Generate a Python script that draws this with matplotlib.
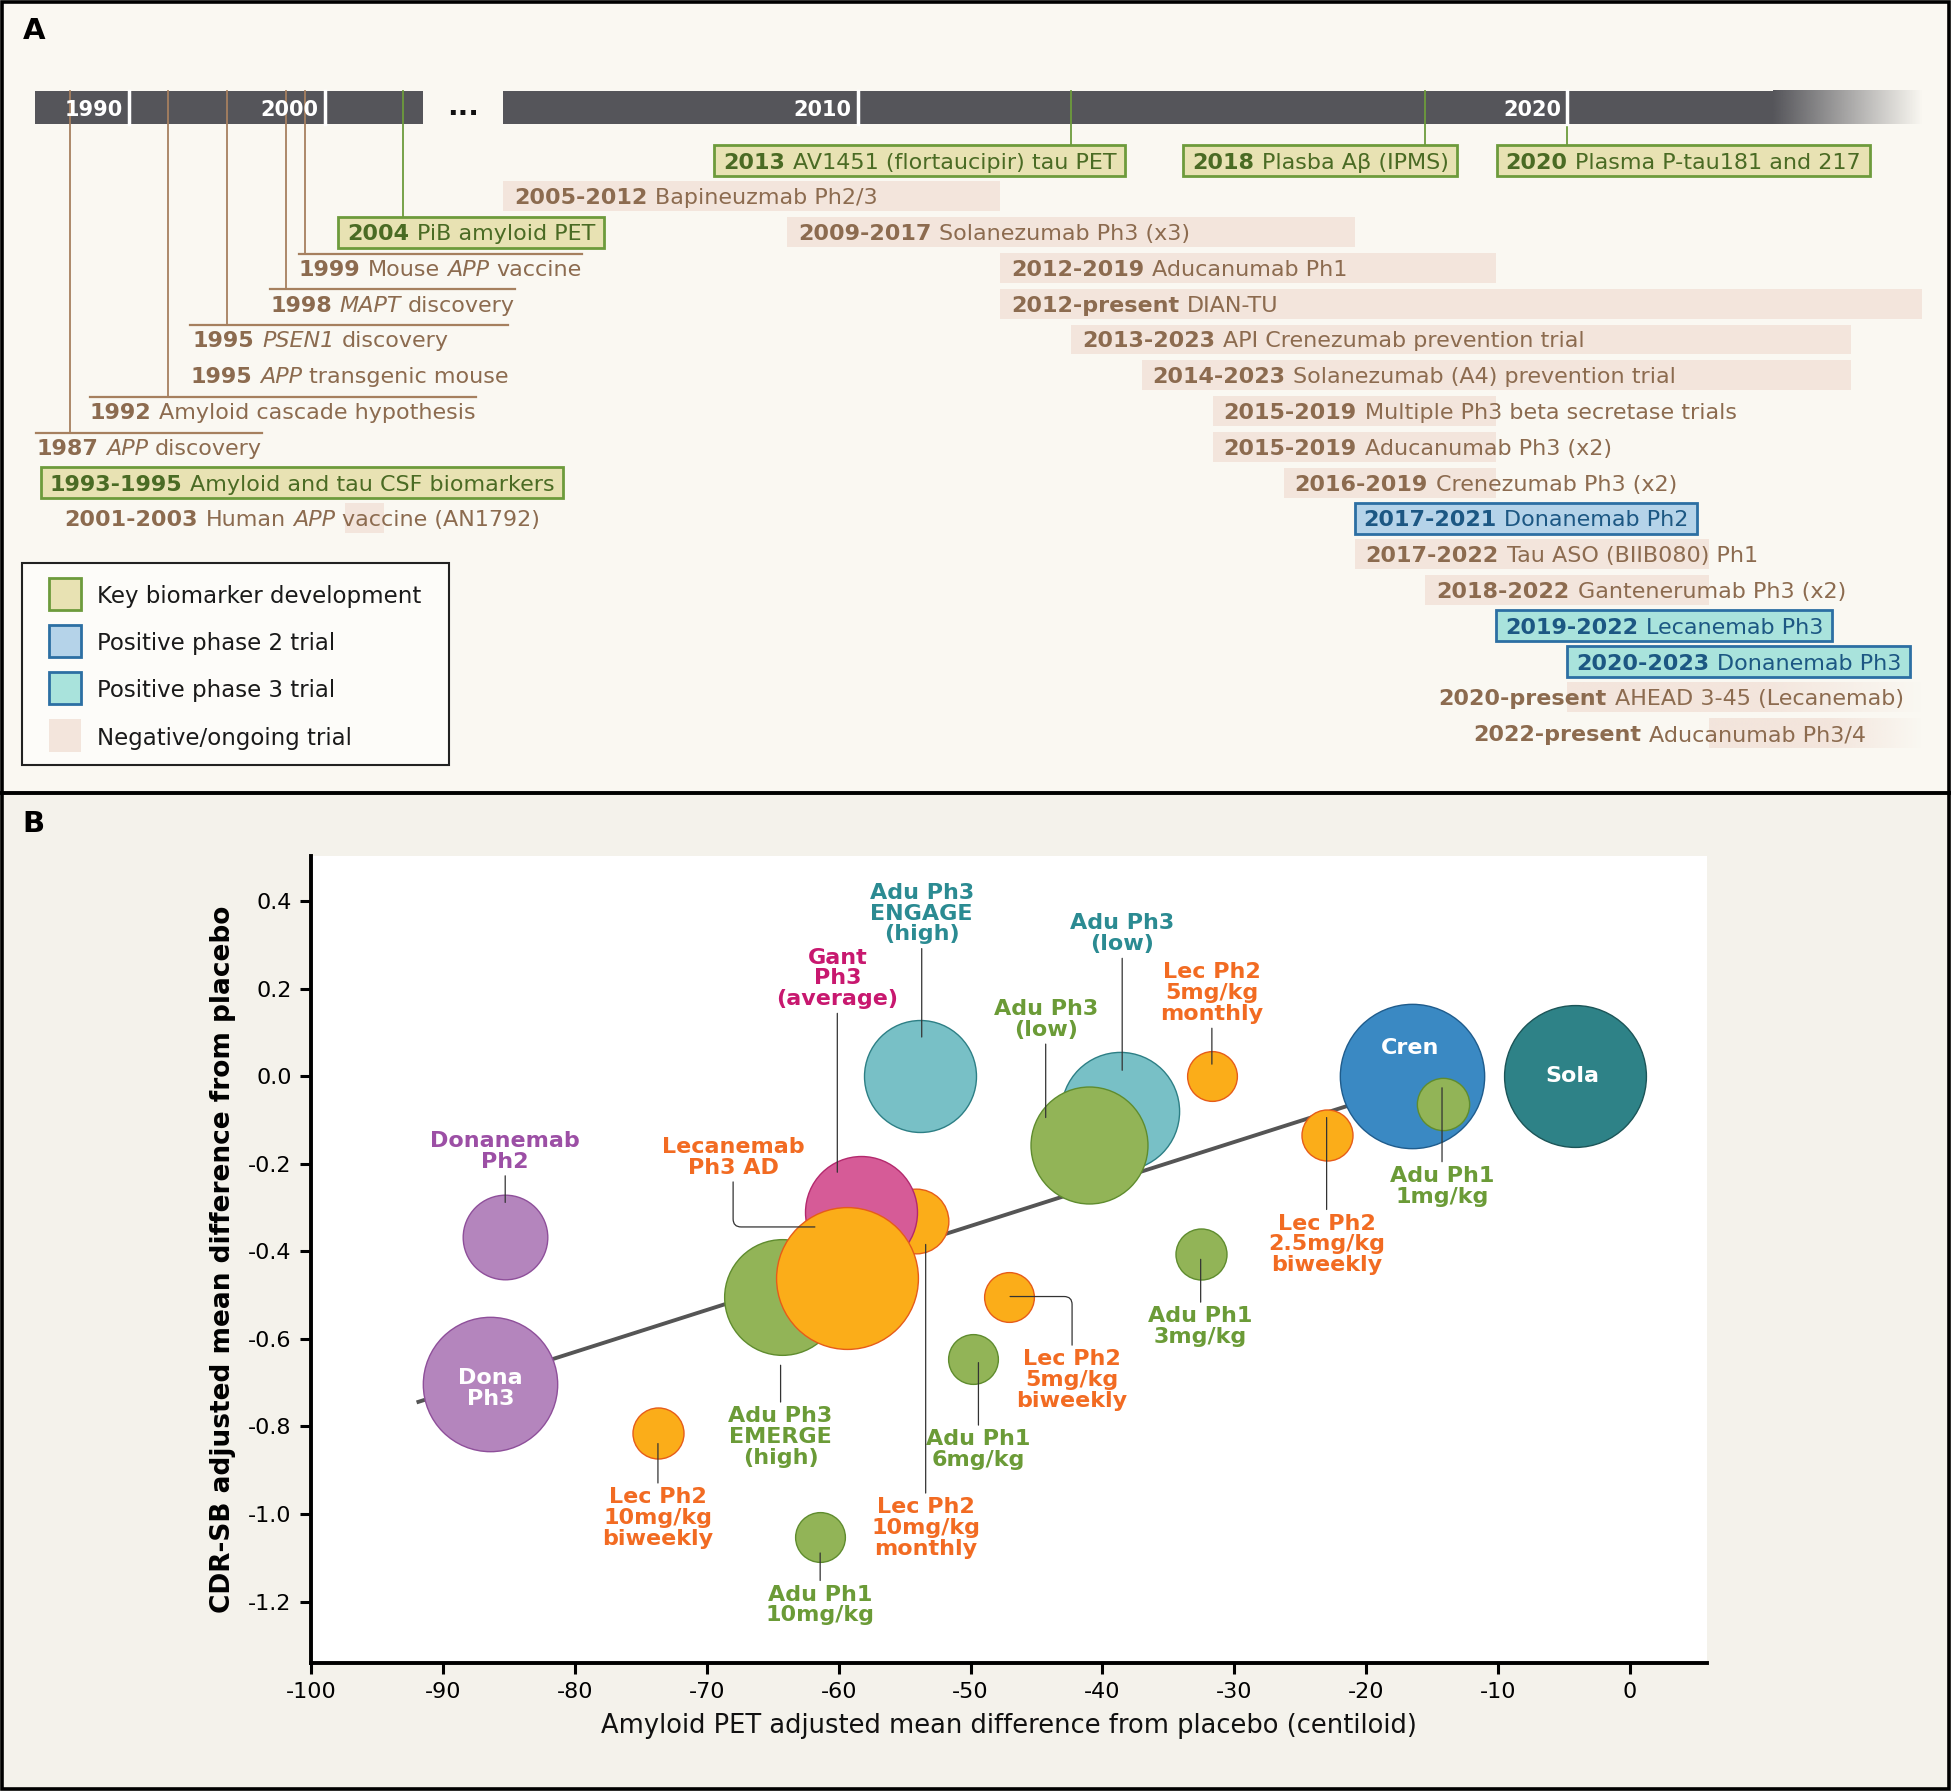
import numpy as np
import matplotlib
matplotlib.use("Agg")
import matplotlib.pyplot as plt
from matplotlib.patches import Rectangle
from matplotlib.colors import to_rgb
from matplotlib.font_manager import FontProperties

plt.rcParams["font.family"] = ["DejaVu Sans"]
plt.rcParams["axes.unicode_minus"] = False

# ---------------- panel A data : timeline ----------------
tick_years = [1990, 2000, 2010, 2020]
timeline_start = 1985.2
break_year = 2005          # timeline is broken ("...") here
timeline_end = 2025

# early discoveries (text with a leader to the timeline)
ev_year = [1987, 1992, 1995, 1995, 1998, 1999]
ev_text = ["1987 *APP* discovery", "1992 Amyloid cascade hypothesis",
           "1995 *PSEN1* discovery", "1995 *APP* transgenic mouse",
           "1998 *MAPT* discovery", "1999 Mouse *APP* vaccine"]
ev_row = [9, 8, 6, 7, 5, 4]

# key biomarker developments
bm_year = [1993, 2004, 2013, 2018, 2020]
bm_text = ["1993-1995 Amyloid and tau CSF biomarkers", "2004 PiB amyloid PET",
           "2013 AV1451 (flortaucipir) tau PET", "2018 Plasba A\u03b2 (IPMS)",
           "2020 Plasma P-tau181 and 217"]
bm_row = [10, 3, 1, 1, 1]
bm_linked = [False, True, True, True, True]

# trials (None = present); bar ends as drawn in the figure
tr_start = [2001, 2005, 2009, 2012, 2012, 2013, 2014, 2015, 2015, 2016,
            2017, 2017, 2018, 2019, 2020, 2020, 2022]
tr_end = [2003, 2012, 2017, 2019, None, 2024, 2024, 2019, 2019, 2019,
          2021, 2022, 2022, 2022, 2023, None, None]
tr_text = ["2001-2003 Human *APP* vaccine (AN1792)",
           "2005-2012 Bapineuzmab Ph2/3",
           "2009-2017 Solanezumab Ph3 (x3)",
           "2012-2019 Aducanumab Ph1",
           "2012-present DIAN-TU",
           "2013-2023 API Crenezumab prevention trial",
           "2014-2023 Solanezumab (A4) prevention trial",
           "2015-2019 Multiple Ph3 beta secretase trials",
           "2015-2019 Aducanumab Ph3 (x2)",
           "2016-2019 Crenezumab Ph3 (x2)",
           "2017-2021 Donanemab Ph2",
           "2017-2022 Tau ASO (BIIB080) Ph1",
           "2018-2022 Gantenerumab Ph3 (x2)",
           "2019-2022 Lecanemab Ph3",
           "2020-2023 Donanemab Ph3",
           "2020-present AHEAD 3-45 (Lecanemab)",
           "2022-present Aducanumab Ph3/4"]
tr_kind = ["neg"] * 10 + ["ph2", "neg", "neg", "ph3", "ph3", "neg", "neg"]
tr_row = [11, 2, 3, 4, 5, 6, 7, 8, 9, 10, 11, 12, 13, 14, 15, 16, 17]

legend_labels = ["Key biomarker development", "Positive phase 2 trial",
                 "Positive phase 3 trial", "Negative/ongoing trial"]
legend_kinds = ["bm", "ph2", "ph3", "neg"]

# ---------------- panel B data : bubbles ----------------
bub_x = [-85.3, -86.4, -73.7, -64.3, -54.1, -58.3, -59.4, -53.8, -61.4, -49.8,
         -47.1, -38.7, -41.0, -31.7, -32.5, -23.0, -16.5, -14.2, -4.2]
bub_y = [-0.367, -0.702, -0.816, -0.503, -0.33, -0.31, -0.46, 0.0, -1.052, -0.645,
         -0.503, -0.08, -0.157, 0.0, -0.405, -0.134, 0.0, -0.063, 0.0]
bub_d = [68, 108, 41, 93, 52, 90, 114, 90, 40, 40,
         40, 95, 94, 40, 41, 41, 116, 42, 114]
bub_group = ["dona", "dona", "lec", "adu", "lec", "gant", "lec", "adu3t", "adu", "adu",
             "lec", "adu3t", "adu", "lec", "adu", "lec", "cren", "adu", "sola"]

fit_x = [-92, -17]
fit_y = [-0.745, -0.025]

lab_text = ["Donanemab\nPh2", "Lecanemab\nPh3 AD", "Gant\nPh3\n(average)",
            "Adu Ph3\nENGAGE\n(high)", "Adu Ph3\n(low)", "Adu Ph3\n(low)",
            "Lec Ph2\n5mg/kg\nmonthly", "Adu Ph1\n1mg/kg", "Lec Ph2\n2.5mg/kg\nbiweekly",
            "Adu Ph1\n3mg/kg", "Lec Ph2\n5mg/kg\nbiweekly", "Adu Ph1\n6mg/kg",
            "Lec Ph2\n10mg/kg\nmonthly", "Adu Ph3\nEMERGE\n(high)",
            "Lec Ph2\n10mg/kg\nbiweekly", "Adu Ph1\n10mg/kg"]
lab_group = ["dona", "lec", "gant", "adu3t", "adu3t", "adu", "lec", "adu", "lec",
             "adu", "lec", "adu", "lec", "adu", "lec", "adu"]

inner_text = ["Dona\nPh3", "Cren", "Sola"]

# ---------------- layout ----------------
W, H = 1568, 1439
SX = 1951 / W
A_BOTTOM = 637
ROW_Y0, ROW_DY = 129, 28.75
BAR_TOP, BAR_BOT = 73, 100
EARLY_PX = (28, 340)
LATE_PX = (404, 1545)
FS = 16
PAD = 7
ev_text_x = [29, 72, 155, 153, 217, 240]
bm_box_x = [33, 272, 574, 951, 1203]
tr_text_x = {0: 52}
tr_text_right = {15: 1530, 16: 1500}
tr_fade = {15, 16}

lab_xy = [(-85.28, -0.171), (-68.0, -0.185), (-60.1, 0.224), (-53.7, 0.372),
          (-38.5, 0.326), (-44.3, 0.130), (-31.7, 0.190), (-14.25, -0.251),
          (-23.0, -0.384), (-32.55, -0.572), (-42.3, -0.694), (-49.4, -0.853),
          (-53.4, -1.032), (-64.4, -0.824), (-73.7, -1.009), (-61.4, -1.208)]
lab_tip = [(-85.28, -0.288), (-61.8, -0.344), (-60.1, -0.219), (-53.7, 0.090),
           (-38.5, 0.014), (-44.3, -0.094), (-31.7, 0.028), (-14.25, -0.026),
           (-23.0, -0.094), (-32.55, -0.418), (-47.0, -0.503), (-49.4, -0.654),
           (-53.4, -0.384), (-64.4, -0.660), (-73.7, -0.839), (-61.4, -1.089)]
lab_elbow = {1, 10}
inner_xy = [(-86.4, -0.714), (-16.7, 0.065), (-4.4, 0.0)]

BAR_C = "#55555a"
BROWN = "#8c6b4f"
LINE_BROWN = "#a6805f"
GREEN_TXT = "#4a6b24"
BLUE_TXT = "#1c5783"
kind_face = {"bm": "#e8e2b3", "ph2": "#b5d3e9", "ph3": "#a9e3dc", "neg": "#f3e5dc"}
kind_edge = {"bm": "#6d9b3c", "ph2": "#2c6fa3", "ph3": "#2c6fa3", "neg": "none"}

bub_face = {"dona": "#b485bd", "lec": "#fbad19", "gant": "#d65b97", "adu3t": "#78c0c6",
            "adu": "#92b457", "cren": "#3a89c3", "sola": "#2e8287"}
bub_edge = {"dona": "#8e4f9a", "lec": "#e65c19", "gant": "#b3296d", "adu3t": "#2d7f85",
            "adu": "#5f8c2e", "cren": "#1f5c8c", "sola": "#1c5558"}
lab_color = {"dona": "#9c4fa5", "lec": "#f26b22", "gant": "#c8186f",
             "adu3t": "#2b8b92", "adu": "#6b9b37"}

fig = plt.figure(figsize=(19.51, 17.91), dpi=100)
ax0 = fig.add_axes([0, 0, 1, 1])
ax0.axis("off")
R = fig.canvas.get_renderer()

ax0.add_patch(Rectangle((0, 0), W, A_BOTTOM, fc="#faf8f2", ec="none", zorder=0))
ax0.add_patch(Rectangle((0, A_BOTTOM), W, H - A_BOTTOM, fc="#f4f2eb", ec="none", zorder=0))


def ry(r):
    return ROW_Y0 + (r - 1) * ROW_DY


def tpx(year, early):
    if early:
        return np.interp(year, [timeline_start, break_year], EARLY_PX)
    return np.interp(year, [break_year, timeline_end], LATE_PX)


def tw(s, bold=False, ital=False, size=FS):
    if not s:
        return 0.0
    fp = FontProperties(family="DejaVu Sans", size=size,
                        weight="bold" if bold else "normal",
                        style="italic" if ital else "normal")
    a = R.get_text_width_height_descent("|" + s + "|", fp, ismath=False)[0]
    b = R.get_text_width_height_descent("||", fp, ismath=False)[0]
    return (a - b) / SX


def split_parts(s):
    head, rest = s.split(" ", 1)
    parts = [(head + " ", True, False)]
    for k, piece in enumerate(rest.split("*")):
        if piece:
            parts.append((piece, False, k % 2 == 1))
    return parts


def rich(x, y, s, color, size=FS, z=6, align="left"):
    parts = split_parts(s)
    widths = [tw(p, b, i, size) for p, b, i in parts]
    total = sum(widths)
    if align == "right":
        x -= total
    cur = x
    for (p, b, i), w in zip(parts, widths):
        lead = len(p) - len(p.lstrip(" "))
        core = p.strip(" ")
        if core:
            ax0.text(cur + tw(" " * lead, b, i, size), y, core, color=color, fontsize=size,
                     fontweight="bold" if b else "normal",
                     fontstyle="italic" if i else "normal",
                     ha="left", va="center_baseline", zorder=z)
        cur += w
    return x, x + total


def fade_rect(x0, x1, y0, y1, color, solid_frac, z):
    n = 256
    rgba = np.zeros((1, n, 4))
    rgba[..., :3] = to_rgb(color)
    t = np.linspace(0, 1, n)
    rgba[0, :, 3] = np.clip((1 - t) / (1 - solid_frac), 0, 1)
    ax0.imshow(rgba, extent=(x0, x1, y1, y0), aspect="auto", zorder=z,
               interpolation="bilinear")


# ---- timeline bar ----
bh = BAR_BOT - BAR_TOP
ax0.add_patch(Rectangle((EARLY_PX[0], BAR_TOP), EARLY_PX[1] - EARLY_PX[0], bh,
                        fc=BAR_C, ec="none", zorder=2))
xs = tpx(2022.9, False)
ax0.add_patch(Rectangle((LATE_PX[0], BAR_TOP), xs - LATE_PX[0], bh, fc=BAR_C, ec="none", zorder=2))
fade_rect(xs, LATE_PX[1], BAR_TOP, BAR_BOT, BAR_C, 0.0, 2)
for yr in tick_years:
    x = tpx(yr, yr < break_year)
    ax0.plot([x, x], [BAR_TOP, BAR_BOT], color="white", lw=2.5, zorder=4)
    ax0.text(x - 5, (BAR_TOP + BAR_BOT) / 2, str(yr), color="white", fontweight="bold",
             fontsize=15, ha="right", va="center_baseline", zorder=5)
ax0.text((EARLY_PX[1] + LATE_PX[0]) / 2, (BAR_TOP + BAR_BOT) / 2 - 3, "...", fontsize=20,
         fontweight="bold", ha="center", va="center_baseline", color="#111111")

# ---- early discoveries ----
ext = {}
for i in range(len(ev_year)):
    ext[i] = rich(ev_text_x[i], ry(ev_row[i]), ev_text[i], BROWN)
for yr in sorted(set(ev_year)):
    idx = [i for i in range(len(ev_year)) if ev_year[i] == yr]
    ly = ry(min(ev_row[i] for i in idx)) - 11.5
    lx0 = min(ext[i][0] for i in idx)
    lx1 = max(ext[i][1] for i in idx)
    ax0.plot([lx0, lx1], [ly, ly], color=LINE_BROWN, lw=1.6, zorder=3)
    xc = tpx(yr, True)
    ax0.plot([xc, xc], [BAR_TOP, ly], color=LINE_BROWN, lw=1.3, zorder=3)

# ---- biomarkers ----
for i in range(len(bm_year)):
    y = ry(bm_row[i])
    bx = bm_box_x[i]
    x0, x1 = rich(bx + PAD, y, bm_text[i], GREEN_TXT)
    ax0.add_patch(Rectangle((bx, y - 12.5), x1 - x0 + 2 * PAD, 25, fc=kind_face["bm"],
                            ec=kind_edge["bm"], lw=2, zorder=4))
    if bm_linked[i]:
        xc = tpx(bm_year[i], bm_year[i] < break_year)
        ax0.plot([xc, xc], [BAR_TOP, y - 12.5], color=kind_edge["bm"], lw=1.3, zorder=3)

# ---- trials ----
for i in range(len(tr_start)):
    early = tr_start[i] < break_year
    end = tr_end[i] if tr_end[i] is not None else timeline_end
    x0 = tpx(tr_start[i], early)
    x1 = tpx(end, early)
    y = ry(tr_row[i])
    kind = tr_kind[i]
    if kind == "neg":
        if i in tr_fade:
            fade_rect(x0, x1, y - 12, y + 12, kind_face["neg"], 0.55, 1)
        else:
            ax0.add_patch(Rectangle((x0, y - 12), x1 - x0, 24, fc=kind_face["neg"],
                                    ec="none", zorder=1))
        if i in tr_text_right:
            rich(tr_text_right[i], y, tr_text[i], BROWN, align="right")
        else:
            rich(tr_text_x.get(i, x0 + 9), y, tr_text[i], BROWN)
    else:
        t0, t1 = rich(x0 + PAD, y, tr_text[i], BLUE_TXT)
        ax0.add_patch(Rectangle((x0, y - 12.5), t1 - t0 + 2 * PAD, 25, fc=kind_face[kind],
                                ec=kind_edge[kind], lw=2, zorder=4))

# ---- legend ----
LEG_X, LEG_Y, LEG_W, LEG_H = 18, 452, 343, 163
ax0.add_patch(Rectangle((LEG_X, LEG_Y), LEG_W, LEG_H, fc="#fdfcf9", ec="#222222",
                        lw=1.5, zorder=4))
for k, (lab, kind) in enumerate(zip(legend_labels, legend_kinds)):
    yc = LEG_Y + 25 + k * 38
    ax0.add_patch(Rectangle((39, yc - 13), 26, 26, fc=kind_face[kind], ec=kind_edge[kind],
                            lw=2, zorder=5))
    ax0.text(78, yc, lab, fontsize=16.5, color="#1a1a1a", ha="left", va="center_baseline",
             zorder=5)

# ---- panel letters, frame ----
ax0.text(18, 25, "A", fontsize=21, fontweight="bold", va="center", ha="left")
ax0.text(18, 662, "B", fontsize=21, fontweight="bold", va="center", ha="left")
ax0.add_patch(Rectangle((1.5, 1.5), W - 3, H - 3, fc="none", ec="black", lw=2.6, zorder=20))
ax0.plot([0, W], [A_BOTTOM, A_BOTTOM], color="black", lw=2.8, zorder=20)
ax0.set_xlim(0, W)
ax0.set_ylim(H, 0)

# ---------------- panel B ----------------
axB = fig.add_axes([250 / W, 1 - 1336 / H, (1372 - 250) / W, (1336 - 688) / H])
axB.set_facecolor("white")
axB.set_xlim(-100, 5.85)
axB.set_ylim(-1.34, 0.503)
for s in ["top", "right"]:
    axB.spines[s].set_visible(False)
for s in ["left", "bottom"]:
    axB.spines[s].set_linewidth(2.8)
xt = np.arange(-100, 1, 10)
axB.set_xticks(xt)
axB.set_xticklabels([str(int(v)) for v in xt])
yt = np.round(np.arange(-1.2, 0.41, 0.2), 1)
axB.set_yticks(yt)
axB.set_yticklabels([f"{v + 0.0:.1f}" for v in yt])
axB.tick_params(direction="out", length=8, width=2.2, labelsize=16, pad=6)
axB.set_xlabel("Amyloid PET adjusted mean difference from placebo (centiloid)",
               fontsize=18.5, labelpad=8, color="#111111")
axB.set_ylabel("CDR-SB adjusted mean difference from placebo",
               fontsize=19, fontweight="bold", labelpad=9)

axB.plot(fit_x, fit_y, color="#555555", lw=2.8, zorder=1, solid_capstyle="butt")

for k in range(len(bub_x)):
    g = bub_group[k]
    axB.scatter([bub_x[k]], [bub_y[k]], s=(bub_d[k] * SX * 0.72) ** 2, c=bub_face[g],
                edgecolors=bub_edge[g], linewidths=1.0, zorder=2 + k)

for k in range(len(lab_text)):
    cs = "angle,angleA=90,angleB=0,rad=8" if k in lab_elbow else "arc3"
    axB.annotate(lab_text[k], xy=lab_tip[k], xytext=lab_xy[k], textcoords="data",
                 ha="center", va="center", fontsize=16, fontweight="bold",
                 color=lab_color[lab_group[k]], linespacing=1.05, multialignment="center",
                 arrowprops=dict(arrowstyle="-", color="#333333", lw=0.9, shrinkA=1,
                                 shrinkB=0, connectionstyle=cs),
                 zorder=40)

for t, (x, y) in zip(inner_text, inner_xy):
    axB.text(x, y, t, ha="center", va="center", fontsize=16, fontweight="bold",
             color="white", linespacing=1.05, zorder=45)

fig.savefig("out.png", dpi=100)
